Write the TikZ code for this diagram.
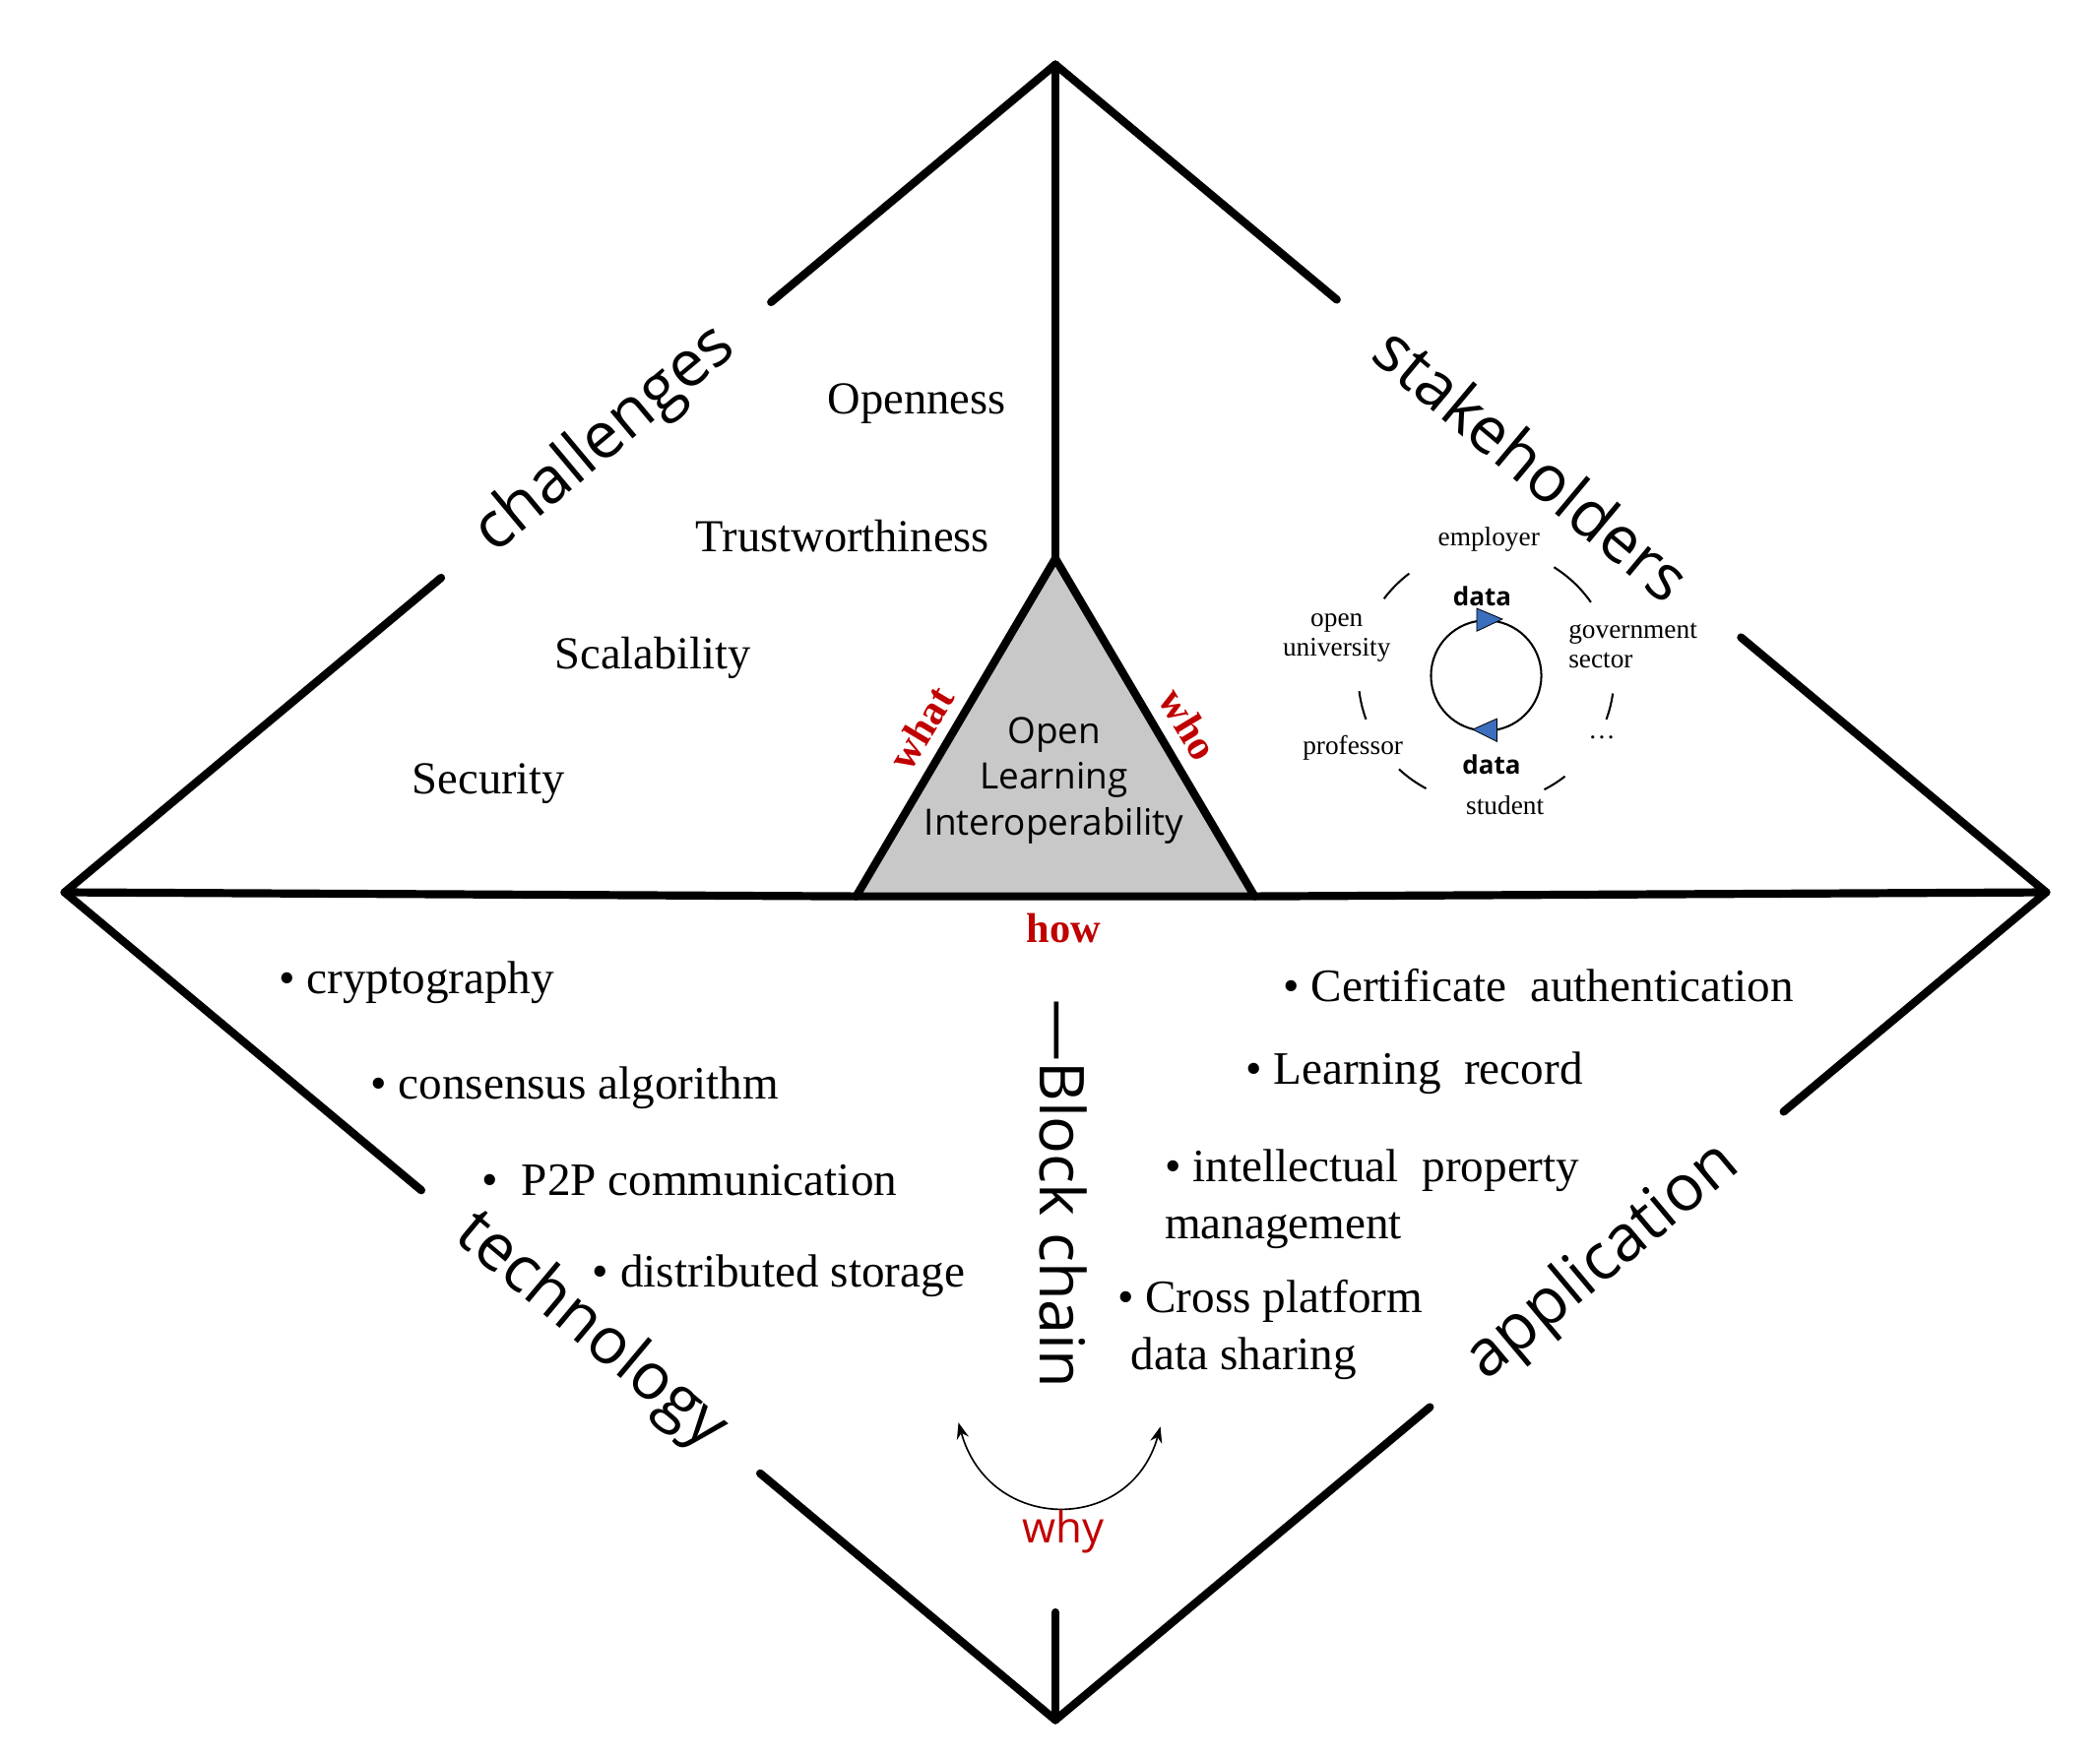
\documentclass[tikz,border=0pt]{standalone}
\usepackage{fontspec}
\setmainfont{Liberation Serif}
\newfontfamily\osans{Open Sans}
\usetikzlibrary{calc,arrows.meta}
\definecolor{myred}{RGB}{192,0,0}
\definecolor{tri}{RGB}{200,200,200}
\definecolor{myblue}{RGB}{60,110,190}
\begin{document}
\begin{tikzpicture}[x=1pt,y=-1pt,
  edge/.style={line width=6pt,line cap=round},
  big/.style={font=\osans\fontsize{48}{48}\selectfont},
  item/.style={font=\fontsize{34}{34}\selectfont,anchor=center},
  bul/.style={font=\fontsize{34.5}{42}\selectfont,anchor=west,align=left,inner sep=0},
  sm/.style={font=\fontsize{20}{22}\selectfont,align=center,inner sep=1pt},
  dat/.style={font=\osans\bfseries\fontsize{19}{19}\selectfont,inner sep=1pt},
  q/.style={font=\bfseries\fontsize{31}{31}\selectfont,text=myred},
  thin/.style={line width=1.5pt}]
\useasboundingbox (0,0) rectangle (1560,1305);
\coordinate (T) at (784,48);
\coordinate (L) at (48,663);
\coordinate (R) at (1520,663);
\coordinate (B) at (784,1278);
\coordinate (A) at (784,415);
\coordinate (BL) at (636,666);
\coordinate (BR) at (932,666);
\coordinate (S) at (784,1198);
% triangle
\filldraw[fill=tri,edge,line join=round] (A) -- (BL) -- (BR) -- cycle;
\node[font=\osans\fontsize{27}{34}\selectfont,align=center] (ctr) at (783,580) {Open\\Learning\\Interoperability};
% frame
\draw[edge] (L) -- (BL);
\draw[edge] (BR) -- (R);
\draw[edge] (T) -- (A);
\draw[edge] (S) -- (B);
\draw[edge] (L) -- ($(L)!0.38!(T)$);
\draw[edge] ($(L)!0.713!(T)$) -- (T);
\draw[edge] (T) -- ($(T)!0.284!(R)$);
\draw[edge] ($(T)!0.692!(R)$) -- (R);
\draw[edge] (L) -- ($(L)!0.36!(B)$);
\draw[edge] ($(L)!0.702!(B)$) -- (B);
\draw[edge] (R) -- ($(R)!0.265!(B)$);
\draw[edge] ($(R)!0.622!(B)$) -- (B);
\path (L) -- (T) node[big,pos=0.546,sloped] (lch) {challenges};
\path (T) -- (R) node[big,pos=0.482,sloped] (lst) {stakeholders};
\path (L) -- (B) node[big,pos=0.531,sloped] (lte) {technology};
\path (R) -- (B) node[big,pos=0.447,sloped] (lap) {application};
% challenges
\node[item] (o1) at (681,300) {Openness};
\node[item] (o2) at (626,398) {Trustworthiness};
\node[item] (o3) at (485,489) {Scalability};
\node[item] (o4) at (363,582) {Security};
% what who how
\node[q,rotate=59] (what) at (684,541) {what};
\node[q,rotate=-59] (who) at (883,538) {who};
\node[q] (how) at (790,690) {how};
% stakeholders
\node[sm] (emp) at (1106,401) {employer};
\node[sm] (ou) at (993,474) {open\\university};
\node[sm,align=left] (gov) at (1213,480) {government\\sector};
\node[sm] (prof) at (1005,556) {professor};
\node[sm] (stu) at (1118,598) {student};
\node[sm] (dots) at (1190,548) {\dots};
\node[dat] (d1) at (1101,443) {data};
\node[dat] (d2) at (1108,568) {data};
\coordinate (C) at (1104,502);
\draw[thin] (C) circle (41);
\fill[myblue,draw=black,line width=0.6pt] (1097,452) -- (1116,460) -- (1097,469) -- cycle;
\fill[myblue,draw=black,line width=0.6pt] (1112,534) -- (1094,542) -- (1112,551) -- cycle;
\begin{scope}[thin]
\draw (C) ++(-127:95) arc (-127:-143:95);
\draw (C) ++(-35:95) arc (-35:-58:95);
\draw (C) ++(-187:95) arc (-187:-200:95);
\draw (C) ++(8:95) arc (8:20:95);
\draw (C) ++(118:95) arc (118:133:95);
\draw (C) ++(52:95) arc (52:63:95);
\end{scope}
% technology bullets
\node[bul] (t1) at (207,730) {• cryptography};
\node[bul] (t2) at (275,808) {• consensus algorithm};
\node[bul] (t3) at (358,877) {•\ \ P2P communication};
\node[bul] (t4) at (440,948) {• distributed storage};
% application bullets
\node[bul] (a1) at (953,732) {• Certificate\ \ authentication};
\node[bul] (a2) at (925,797) {• Learning\ \ record};
\node[bul] (a3) at (865,891) {• intellectual\ \ property\\management};
\node[bul] (a4) at (830,988) {• Cross platform\\\hspace*{10pt}data sharing};
% block chain
\node[font=\osans\fontsize{46}{46}\selectfont,rotate=-90] (bc) at (790,887) {—Block chain};
% why
\coordinate (w1) at (712,1057);
\coordinate (w2) at (862,1060);
\draw[line width=1.2pt,{Stealth[length=12pt,width=9pt]}-{Stealth[length=12pt,width=9pt]}] (w1) .. controls (735,1140) and (840,1140) .. (w2);
\node[font=\osans\fontsize{32}{32}\selectfont,text=myred] (why) at (790,1138) {why};
\end{tikzpicture}
\end{document}
